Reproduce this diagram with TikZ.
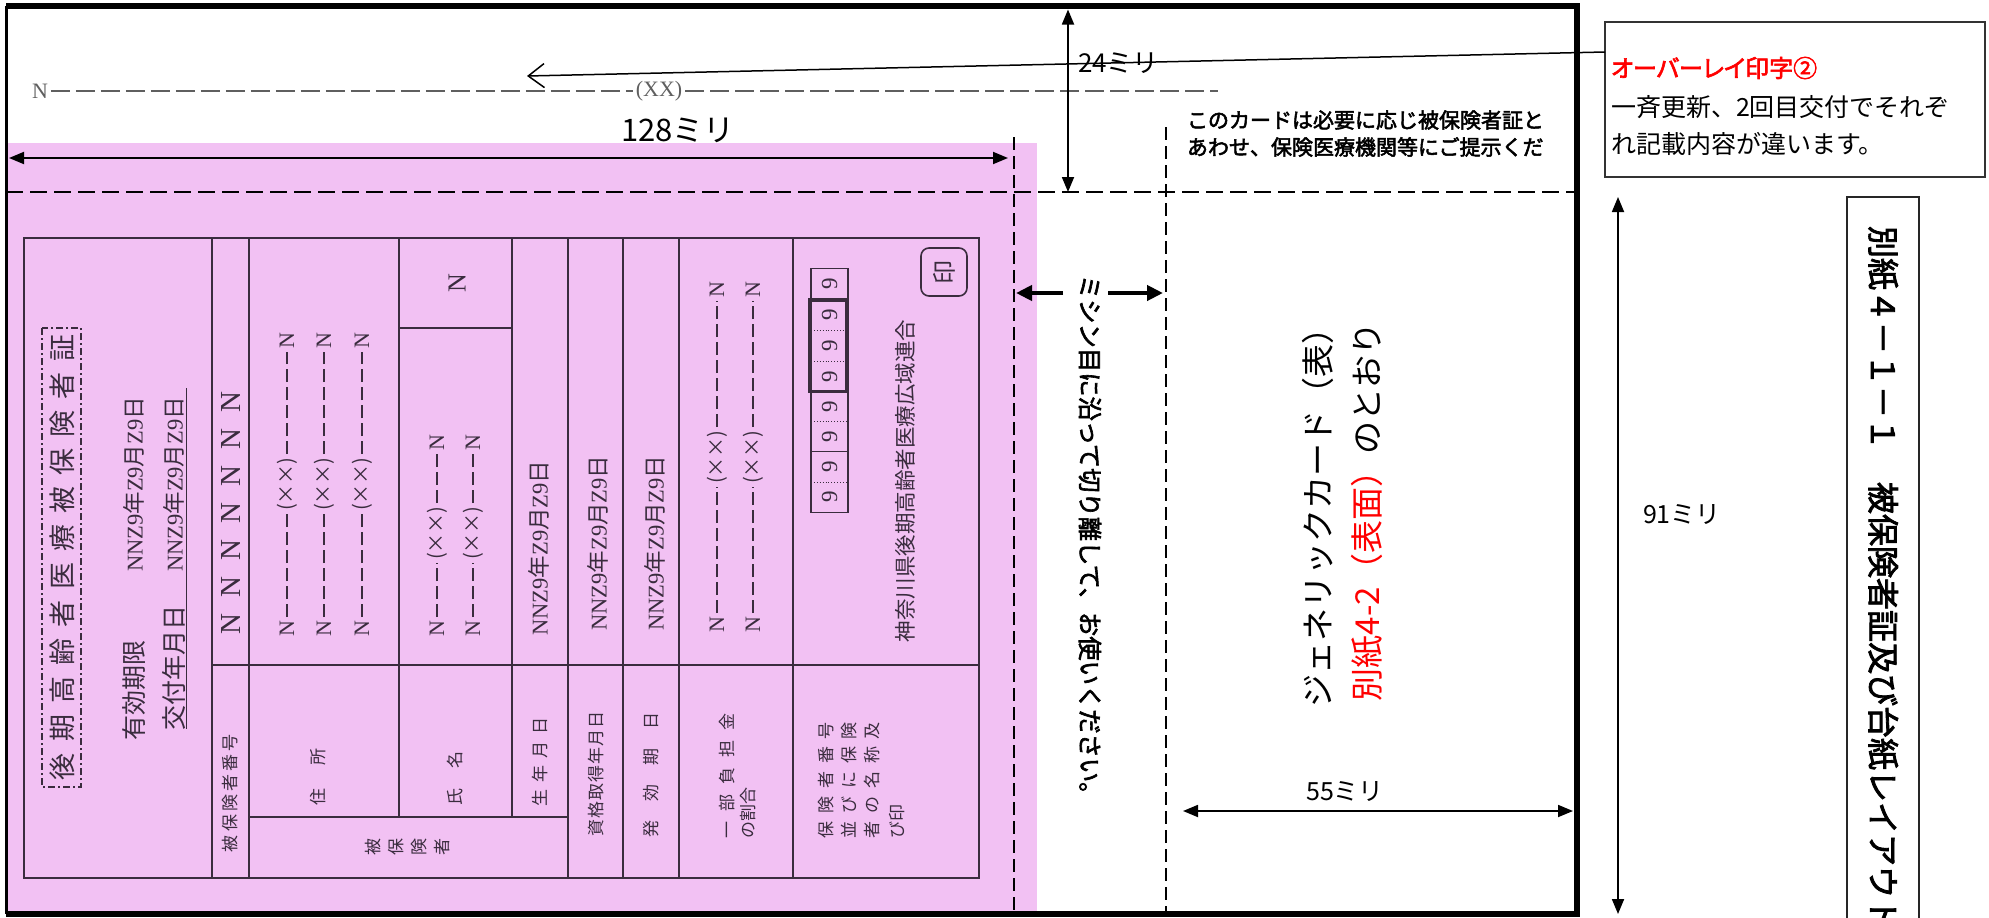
\documentclass[tikz,border=0pt]{standalone}
\usepackage{fontspec}
\setmainfont{Liberation Serif}
\newfontfamily\jp{Noto Sans CJK JP}
\newfontfamily\jpb[FakeBold=2.5]{Noto Sans CJK JP}
\newfontfamily\jpp[RawFeature=+palt,FakeBold=2.5]{Noto Sans CJK JP}
\usetikzlibrary{arrows.meta,calc}
\definecolor{pinkbg}{RGB}{242,193,243}
\definecolor{cardink}{RGB}{58,44,62}
\definecolor{grayline}{RGB}{95,95,95}
\newcommand\fs[1]{\fontsize{#1}{#1}\selectfont}
\newcommand\cdate{NNZ9{\jp 年}Z9{\jp 月}Z9{\jp 日}}
\tikzset{
  every node/.style={inner sep=0pt, outer sep=0pt},
  cardline/.style={draw=cardink, line width=1.6pt},
  cjp/.style={font=\jp\fs{17}, text=cardink, rotate=90},
  crm/.style={font=\rmfamily\fs{22}, text=cardink, rotate=90},
  carddash/.style={draw=cardink, line width=1.2pt, dash pattern=on 13pt off 5pt, shorten <=3pt, shorten >=3pt},
  cutline/.style={draw=black, line width=2.2pt, dash pattern=on 13pt off 6pt},
  dimarrow/.style={draw=black, line width=1.8pt, {Triangle[length=15pt,width=12pt]}-{Triangle[length=15pt,width=12pt]}},
  fatarrow/.style={draw=black, line width=4.5pt, -{Triangle[length=16pt,width=15pt]}},
}
\newcommand\drow[5]{%
  \node[crm,anchor=west] (#1a) at (#2,#3) {N};
  \node[cjp,font=\jp\fs{20}] (#1b) at (#2,#4) {(××)};
  \node[crm,anchor=east] (#1c) at (#2,#5) {N};
  \draw[carddash] (#1a.east) -- (#1b.west);
  \draw[carddash] (#1b.east) -- (#1c.west);
}
\begin{document}
\begin{tikzpicture}[x=1pt,y=-1pt]
\useasboundingbox (0,0) rectangle (1989,918);
% pink area
\fill[pinkbg] (6,143) rectangle (1037,914);
% overlay dashed line
\node[font=\rmfamily\fs{22}, text=grayline] (ovN) at (40,91) {N};
\node[font=\rmfamily\fs{22}, text=grayline] (ovXX) at (659,91) {(XX)};
\coordinate (ovend) at (1218,91);
\draw[grayline, line width=1.1pt, dash pattern=on 19pt off 6pt, shorten <=3pt, shorten >=3pt] (ovN.east) -- (ovN.east -| ovXX.west);
\draw[grayline, line width=1.1pt, dash pattern=on 19pt off 6pt, shorten <=3pt] (ovXX.east |- ovN.east) -- (ovend |- ovN.east);
% cut lines
\draw[cutline, dash pattern=on 17pt off 7pt] (6,192) -- (1577,192);
\draw[cutline] (1014,137) -- (1014,912);
\draw[cutline] (1166,127) -- (1166,912);
% card frame and grid
\draw[cardline] (24,238) rectangle (979,878);
\foreach \x in {212,249,568,623,679,793} \draw[cardline] (\x,238) -- (\x,878);
\foreach \x in {399,512} \draw[cardline] (\x,238) -- (\x,817);
\draw[cardline] (212,665) -- (979,665);
\draw[cardline] (249,817) -- (568,817);
\draw[cardline] (399,328) -- (512,328);
% title column
\draw[cardink, line width=1.3pt, dash pattern=on 7pt off 3pt on 2pt off 3pt] (42,328) rectangle (81,787);
\node[cjp, font=\jp\fs{27}] (title) at (62,557) {\makebox[446pt][s]{後\hfill 期\hfill 高\hfill 齢\hfill 者\hfill 医\hfill 療\hfill 被\hfill 保\hfill 険\hfill 者\hfill 証}};
\node[cjp, font=\jp\fs{25}, anchor=west] (vallbl) at (134,740) {有効期限};
\node[crm, font=\rmfamily\fs{22.5}, anchor=east] (valdate) at (134,397) {\cdate};
\node[cjp, font=\jp\fs{25}, anchor=west] (isslbl) at (174,730) {交付年月日};
\node[crm, font=\rmfamily\fs{22.5}, anchor=east] (issdate) at (174,397) {\cdate};
\draw[cardink, line width=1.3pt] (186.5,388) -- (186.5,729);
% insured number
\node[crm, font=\rmfamily\fs{29}] (insno) at (231,513) {\makebox[243pt][s]{N\hfill N\hfill N\hfill N\hfill N\hfill N\hfill N}};
% address rows
\drow{adA}{287}{636}{484}{333}
\drow{adB}{324}{636}{484}{333}
\drow{adC}{362}{636}{484}{333}
% name
\node[crm, font=\rmfamily\fs{26}] (nmN) at (457,283) {N};
\drow{nmA}{437}{636}{533}{435}
\drow{nmB}{473}{636}{533}{435}
% dates
\node[crm, font=\rmfamily\fs{22.5}] (dob) at (539,548) {\cdate};
\node[crm, font=\rmfamily\fs{22.5}] (acq) at (598,543) {\cdate};
\node[crm, font=\rmfamily\fs{22.5}] (issd) at (655,543) {\cdate};
% burden
\drow{buA}{717}{632}{457}{282}
\drow{buB}{753}{632}{457}{282}
% digits strip
\foreach \y [count=\i] in {284.2,315,345.5,376.4,406.4,436.4,466.9,497.2}
  \node[crm, font=\rmfamily\fs{23}] (dig\i) at (829.5,\y) {9};
\draw[cardink, line width=1.4pt] (811,268.3) rectangle (848,512.3);
\draw[cardink, line width=3.2pt] (810,300) rectangle (847,391.7);
\draw[cardink, line width=1.2pt] (811,451.7) -- (848,451.7);
\foreach \y in {330,361,421,482} \draw[cardink, line width=0.9pt, dotted] (811,\y) -- (848,\y);
\node[cjp, font=\jp\fs{24}, draw=cardink, line width=1.6pt, rounded corners=8pt, minimum width=48pt, minimum height=46pt] (stamp) at (944,272) {印};
\node[cjp, font=\jp\fs{21.5}] (assoc) at (905,481) {神奈川県後期高齢者医療広域連合};
% lower labels
\node[cjp] (lblno) at (230.5,793) {\makebox[118pt][s]{被\hfill 保\hfill 険\hfill 者\hfill 番\hfill 号}};
\node[cjp] (lbladdr) at (318,777) {\makebox[57pt][s]{住\hfill 所}};
\node[cjp] (lblname) at (455,778) {\makebox[54pt][s]{氏\hfill 名}};
\node[cjp] (lbldob) at (540,762) {\makebox[89pt][s]{生\hfill 年\hfill 月\hfill 日}};
\foreach \c/\x [count=\i] in {被/373,保/396,険/419,者/442}
  \node[cjp] (lblins\i) at (\x,847) {\c};
\node[cjp] (lblacq) at (596,774) {\makebox[125pt][s]{資\hfill 格\hfill 取\hfill 得\hfill 年\hfill 月\hfill 日}};
\node[cjp] (lbliss) at (651,775) {\makebox[125pt][s]{発\hfill 効\hfill 期\hfill 日}};
\node[cjp, anchor=west] (lblbur1) at (727,838) {\makebox[125pt][s]{一\hfill 部\hfill 負\hfill 担\hfill 金}};
\node[cjp, anchor=west] (lblbur2) at (748,838) {の割合};
\node[cjp, anchor=west] (lblis1) at (826,838) {\makebox[116pt][s]{保\hfill 険\hfill 者\hfill 番\hfill 号}};
\node[cjp, anchor=west] (lblis2) at (849,838) {\makebox[116pt][s]{並\hfill び\hfill に\hfill 保\hfill 険}};
\node[cjp, anchor=west] (lblis3) at (872,838) {\makebox[116pt][s]{者\hfill の\hfill 名\hfill 称\hfill 及}};
\node[cjp, anchor=west] (lblis4) at (897,838) {び印};
% texts right of card
\node[font=\jpb\fs{21}, anchor=west] (note1) at (1187,120) {このカードは必要に応じ被保険者証と};
\node[font=\jpb\fs{21}, anchor=west] (note2) at (1187,147) {あわせ、保険医療機関等にご提示くだ};
\node[font=\jpb\fs{24.3}, rotate=-90, anchor=west] (cut) at (1090,275) {ミシン目に沿って切り離して、お使いください。};
\node[font=\jp\fs{33}, rotate=90] (gen1) at (1318,509) {ジェネリックカード（表）};
\node[font=\jp\fs{33}, rotate=90] (gen2) at (1367,512) {\textcolor{red}{別紙4-2（表面）}のとおり};
% callout
\node[draw=black!80, line width=2pt, minimum width=380pt, minimum height=155pt] (callout) at (1795,99.5) {};
\node[font=\jpp\fs{24}, text=red, anchor=west] (co1) at (1611,68) {オーバーレイ印字②};
\node[font=\jp\fs{25}, anchor=west] (co2) at (1611,107) {一斉更新、2回目交付でそれぞ};
\node[font=\jp\fs{25}, anchor=west] (co3) at (1611,144) {れ記載内容が違います。};
\coordinate (ovtip) at (527,76);
\draw[line width=1.5pt, -{Straight Barb[length=16pt,width=24pt]}] ([yshift=-30pt]callout.north west) -- (ovtip);
% dimensions
\node[font=\jp\fs{31}] (w128) at (678,130) {128ミリ};
\coordinate (w128l) at (9,158); \coordinate (w128r) at (1008,158);
\draw[dimarrow] (w128l) -- (w128r);
\node[font=\jp\fs{26}, anchor=west] (h24) at (1078,63) {24ミリ};
\coordinate (h24t) at (1068,9.5); \coordinate (h24b) at (1068,192);
\draw[dimarrow] (h24t) -- (h24b);
\node[font=\jp\fs{25}, anchor=west] (h91) at (1643,515) {91ミリ};
\coordinate (h91t) at (1618,197); \coordinate (h91b) at (1618,914);
\draw[dimarrow] (h91t) -- (h91b);
\node[font=\jp\fs{25}] (w55) at (1345,792) {55ミリ};
\coordinate (w55l) at (1183,811); \coordinate (w55r) at (1573,811);
\draw[dimarrow] (w55l) -- (w55r);
% fat arrows at perforation
\coordinate (cutL0) at (1063,293); \coordinate (cutL1) at (1016,293);
\coordinate (cutR0) at (1108,293); \coordinate (cutR1) at (1163,293);
\draw[fatarrow] (cutL0) -- (cutL1);
\draw[fatarrow] (cutR0) -- (cutR1);
% appendix title
\draw[black!85, line width=1.6pt] (1847,197) rectangle (1919,945);
\node[font=\jpb\fs{32}, rotate=-90, anchor=west] (apx) at (1883,226) {別紙４－１－１　被保険者証及び台紙レイアウト};
% outer frame
\draw[line width=5.5pt] (6,6) -- (1577,6) -- (1577,914) -- (6,914);
\draw[line width=3pt] (6,6) -- (6,914);
\end{tikzpicture}
\end{document}
